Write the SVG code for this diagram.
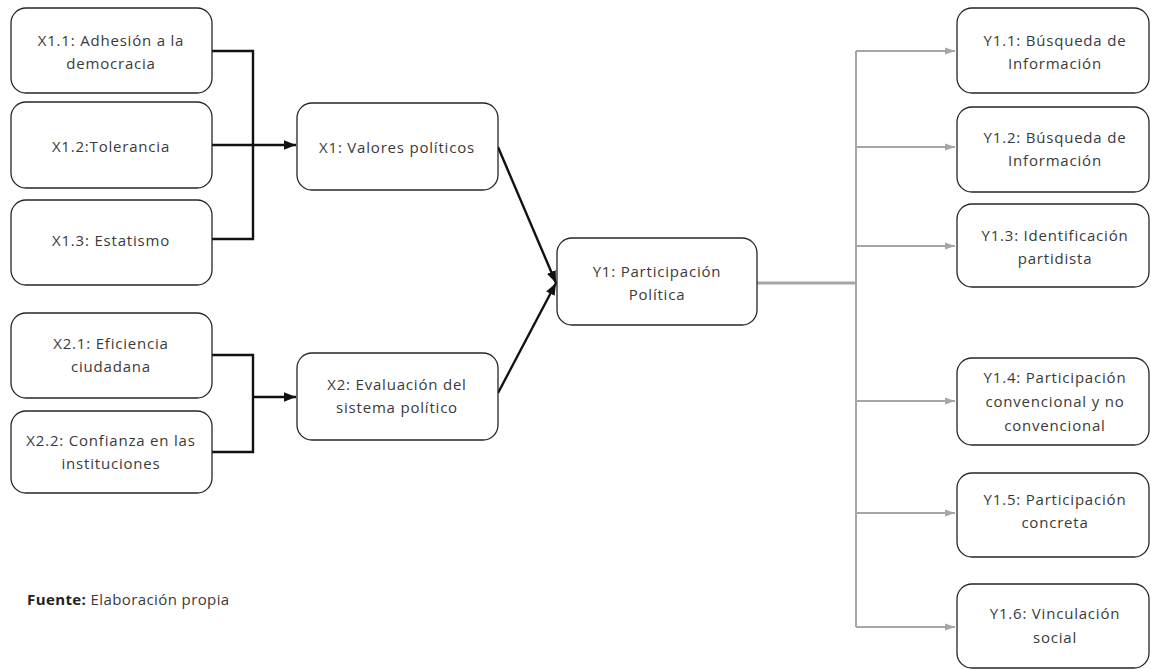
<svg xmlns="http://www.w3.org/2000/svg" width="1151" height="669" viewBox="0 0 1151 669">
<defs>
<style>
.box{fill:#fff;stroke:#262626;stroke-width:1.3}
.t{font-family:"Open Sans","Liberation Sans",sans-serif;font-size:15px;letter-spacing:0.8px;fill:#3a3a3a;text-anchor:middle}
.blk{fill:none;stroke:#111;stroke-width:2.4}
.gry{fill:none;stroke:#a6a6a6;stroke-width:2}
</style>
<marker id="ab" viewBox="0 0 10 10" refX="10" refY="5" markerWidth="5" markerHeight="5" markerUnits="strokeWidth" orient="auto">
<path d="M0,1 L10,5 L0,9 Z" fill="#111"/>
</marker>
<marker id="ag" viewBox="0 0 10 10" refX="10" refY="5" markerWidth="5" markerHeight="5" markerUnits="strokeWidth" orient="auto">
<path d="M0,1.5 L10,5 L0,8.5 Z" fill="#a6a6a6"/>
</marker>
</defs>
<rect width="1151" height="669" fill="#fff"/>
<g id="connectors">
<path class="blk" d="M212,51 H253 V239 H212"/>
<path class="blk" d="M212,145 H296" marker-end="url(#ab)"/>
<path class="blk" d="M212,355 H253 V452 H212"/>
<path class="blk" d="M253,397 H296" marker-end="url(#ab)"/>
<path class="blk" d="M498,147 L556,283" marker-end="url(#ab)"/>
<path class="blk" d="M498,393 L556,283" marker-end="url(#ab)"/>
<path class="gry" d="M757,283 H856" style="stroke-width:3"/>
<path class="gry" d="M856,51 V627"/>
<path class="gry" d="M856,51 H955" marker-end="url(#ag)"/>
<path class="gry" d="M856,147 H955" marker-end="url(#ag)"/>
<path class="gry" d="M856,246 H955" marker-end="url(#ag)"/>
<path class="gry" d="M856,401 H955" marker-end="url(#ag)"/>
<path class="gry" d="M856,513 H955" marker-end="url(#ag)"/>
<path class="gry" d="M856,627 H955" marker-end="url(#ag)"/>
</g>
<g id="x11"><rect class="box" x="11" y="8" width="201" height="85" rx="15"/><text class="t" x="111" y="46">X1.1: Adhesión a la</text><text class="t" x="111" y="69">democracia</text></g>
<g id="x12"><rect class="box" x="11" y="102" width="201" height="86" rx="15"/><text class="t" x="111" y="152">X1.2:Tolerancia</text></g>
<g id="x13"><rect class="box" x="11" y="200" width="201" height="85" rx="15"/><text class="t" x="111" y="246">X1.3: Estatismo</text></g>
<g id="x21"><rect class="box" x="11" y="313" width="201" height="85" rx="15"/><text class="t" x="111" y="349">X2.1: Eficiencia</text><text class="t" x="111" y="372">ciudadana</text></g>
<g id="x22"><rect class="box" x="11" y="411" width="201" height="82" rx="15"/><text class="t" x="111" y="446">X2.2: Confianza en las</text><text class="t" x="111" y="469">instituciones</text></g>
<g id="x1"><rect class="box" x="297" y="103" width="201" height="87" rx="15"/><text class="t" x="397" y="153">X1: Valores políticos</text></g>
<g id="x2"><rect class="box" x="297" y="353" width="201" height="87" rx="15"/><text class="t" x="397" y="390">X2: Evaluación del</text><text class="t" x="397" y="413">sistema político</text></g>
<g id="y1"><rect class="box" x="557" y="238" width="200" height="87" rx="15"/><text class="t" x="657" y="277">Y1: Participación</text><text class="t" x="657" y="300">Política</text></g>
<g id="y11"><rect class="box" x="957" y="8" width="192" height="85" rx="15"/><text class="t" x="1055" y="46">Y1.1: Búsqueda de</text><text class="t" x="1055" y="69">Información</text></g>
<g id="y12"><rect class="box" x="957" y="107" width="192" height="85" rx="15"/><text class="t" x="1055" y="143">Y1.2: Búsqueda de</text><text class="t" x="1055" y="166">Información</text></g>
<g id="y13"><rect class="box" x="957" y="204" width="192" height="83" rx="15"/><text class="t" x="1055" y="241">Y1.3: Identificación</text><text class="t" x="1055" y="264">partidista</text></g>
<g id="y14"><rect class="box" x="957" y="358" width="192" height="87" rx="15"/><text class="t" x="1055" y="383">Y1.4: Participación</text><text class="t" x="1055" y="407">convencional y no</text><text class="t" x="1055" y="431">convencional</text></g>
<g id="y15"><rect class="box" x="957" y="473" width="192" height="84" rx="15"/><text class="t" x="1055" y="505">Y1.5: Participación</text><text class="t" x="1055" y="528">concreta</text></g>
<g id="y16"><rect class="box" x="957" y="584" width="192" height="84" rx="15"/><text class="t" x="1055" y="619">Y1.6: Vinculación</text><text class="t" x="1055" y="643">social</text></g>
<g id="fuente"><text x="27" y="605" style="font-family:'Open Sans','Liberation Sans',sans-serif;font-size:15px;letter-spacing:0.4px;fill:#3a3a3a"><tspan font-weight="bold" fill="#222">Fuente:</tspan> Elaboración propia</text></g>
</svg>
